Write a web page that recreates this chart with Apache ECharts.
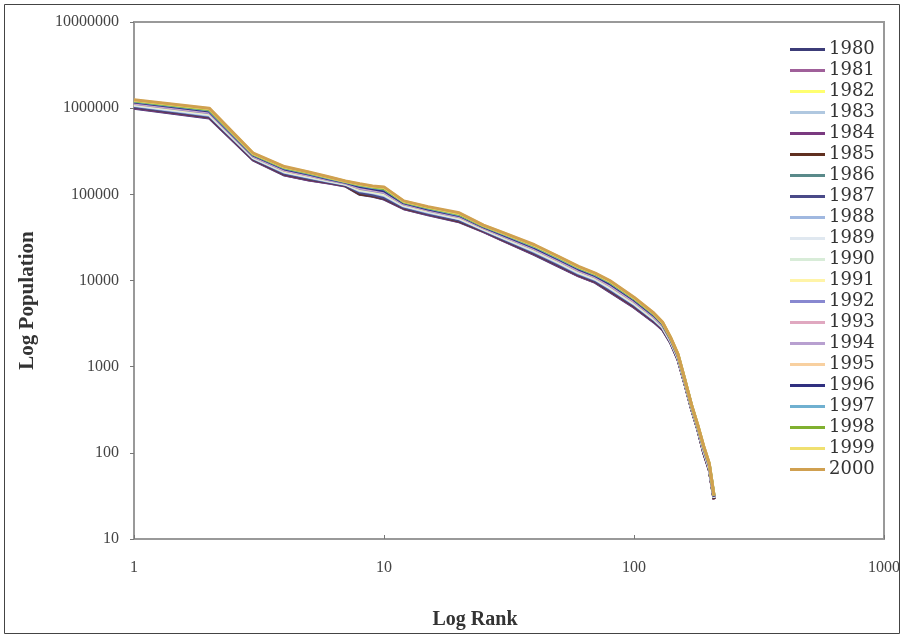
<!DOCTYPE html>
<html>
<head>
<meta charset="utf-8">
<script src="https://cdn.jsdelivr.net/npm/echarts@6/dist/echarts.min.js"></script>
<style>html,body{margin:0;padding:0;background:#fff}#c{width:904px;height:638px}</style>
</head>
<body>
<div id="c"></div>
<script>
const ranks = [1,2,3,4,5,6,7,8,9,10,12,15,20,25,30,40,50,60,70,80,100,120,130,140,150,160,170,180,190,200,209];
const years = ['1980','1981','1982','1983','1984','1985','1986','1987','1988','1989','1990','1991','1992','1993','1994','1995','1996','1997','1998','1999','2000'];
const colors = ['#3c3c78','#a0609a','#ffff70','#b0c8e0','#7a3a80','#603020','#5a8a8a','#4a4a88','#a0b8e0','#e0e8f0','#d8ecd8','#fff4a8','#8888d0','#e0a8c0','#b8a0d0','#f8d0a0','#303080','#70b0d0','#80b030','#f0e070','#d0a050'];
const xTicks = ['1','10','100','1000'];
const yTicks = ['10','100','1000','10000','100000','1000000','10000000'];

const y1980 = [1000000,770000,250000,167000,147000,135000,125000,100000,95000,88000,68000,58000,48000,37000,29000,20000,14600,11300,9500,7400,4900,3300,2700,1900,1200,620,320,185,100,63,29];
const y1981 = [1020000,790000,255000,171000,150000,137000,127000,103000,97000,90000,69000,59000,49000,37500,29500,20500,15000,11500,9700,7600,5000,3380,2750,1930,1215,625,322,187,101,64,29];
const y1982 = [1040000,800000,258000,173000,152000,139000,128000,104000,98000,91000,70000,60000,49500,38000,30000,20800,15200,11700,9800,7700,5100,3420,2780,1950,1225,630,325,188,102,64,30];
const y1983 = [1050000,810000,260000,176000,154000,140000,129000,106000,100000,93000,71000,60500,50500,38500,30300,21100,15400,11900,10000,7900,5200,3470,2820,1960,1240,635,328,190,104,65,30];
const y1984 = [1010000,780000,252000,169000,148000,136000,126000,102000,96000,89000,68500,58500,48500,37200,29200,20300,14800,11400,9600,7500,4950,3340,2720,1910,1210,622,321,186,100,63,29];
const y1985 = [1030000,795000,256000,172000,151000,138000,127000,101000,96000,90000,69500,59500,49000,37800,29700,20600,15100,11600,9750,7650,5050,3400,2760,1940,1220,628,324,187,101,64,29];
const y1986 = [1060000,820000,262000,178000,156000,141000,130000,108000,102000,95000,72000,61000,51000,38700,30600,21300,15600,12000,10100,8000,5250,3500,2840,1970,1250,640,330,191,105,66,30];
const y1987 = [1040000,805000,259000,174000,153000,139000,128000,105000,99000,92000,70500,60000,50000,38200,30100,20900,15300,11800,9900,7800,5150,3450,2800,1950,1230,632,326,189,103,65,30];
const y1988 = [1070000,830000,264000,180000,158000,142000,131000,110000,104000,97000,73000,62000,52000,39000,31000,21600,15900,12200,10250,8150,5330,3550,2870,1985,1260,645,332,193,106,67,30];
const y1989 = [1090000,845000,267000,183000,160000,144000,132000,112000,106000,99000,74000,63000,52500,39500,31500,22000,16200,12400,10450,8300,5420,3600,2900,2000,1270,650,335,194,107,67,30];
const y1990 = [1100000,860000,270000,185000,162000,145000,133000,113000,107000,101000,75000,64000,53500,40000,31900,22400,16400,12600,10600,8450,5500,3660,2940,2020,1285,655,337,196,109,68,31];
const y1991 = [1120000,875000,273000,187000,164000,147000,134000,115000,109000,103000,76000,65000,54000,40300,32300,22800,16700,12800,10800,8600,5600,3720,2980,2040,1300,660,340,197,110,69,31];
const y1992 = [1130000,885000,276000,190000,166000,148000,135000,117000,111000,105000,77000,65500,55000,40800,32700,23100,17000,13000,10950,8750,5700,3780,3020,2060,1310,665,343,199,111,70,31];
const y1993 = [1150000,900000,279000,192000,168000,150000,136000,119000,113000,107000,78000,66000,55500,41200,33100,23500,17200,13200,11100,8900,5800,3840,3060,2080,1320,670,345,200,112,71,31];
const y1994 = [1160000,915000,282000,195000,170000,151000,137000,121000,115000,108000,79000,67000,56000,41600,33500,23800,17500,13400,11250,9050,5900,3900,3100,2100,1335,675,348,202,114,72,31];
const y1995 = [1190000,940000,288000,200000,174000,154000,139000,125000,118000,113000,80500,68500,57500,42300,34400,24500,18000,13800,11550,9400,6050,4000,3160,2130,1360,683,352,205,116,73,31];
const y1996 = [1175000,925000,285000,197000,172000,152000,138000,123000,116000,110000,79500,67500,56800,42000,33900,24100,17700,13600,11400,9200,5980,3950,3130,2115,1345,678,350,203,115,72,31];
const y1997 = [1200000,950000,290000,202000,176000,155000,140000,127000,120000,115000,81500,69500,58000,42700,34800,24800,18200,14000,11700,9550,6150,4050,3190,2150,1370,688,354,206,117,74,32];
const y1998 = [1215000,965000,293000,204000,178000,157000,141000,129000,122000,117000,82000,70200,59000,43100,35200,25200,18500,14200,11900,9700,6230,4100,3230,2165,1380,692,356,207,118,75,32];
const y1999 = [1235000,985000,297000,207000,180000,158000,142000,131000,123000,120000,83000,71000,60000,43600,35600,25600,18800,14400,12050,9850,6320,4150,3270,2185,1390,696,358,209,119,75,32];
const y2000 = [1250000,1000000,300000,210000,182000,160000,143000,133000,125000,122000,84000,72000,61000,44000,36000,26000,19000,14600,12200,10000,6400,4200,3300,2200,1400,700,360,210,120,76,32];

const values = [y1980,y1981,y1982,y1983,y1984,y1985,y1986,y1987,y1988,y1989,y1990,y1991,y1992,y1993,y1994,y1995,y1996,y1997,y1998,y1999,y2000];

const serif = '"Liberation Serif","DejaVu Serif",serif';
const series = years.map((y, i) => ({
  name: y,
  type: 'line',
  symbol: 'none',
  data: ranks.map((r, j) => [r, values[i][j]]),
  lineStyle: { color: colors[i], width: 3 },
  itemStyle: { color: colors[i] }
}));

const chart = echarts.init(document.getElementById('c'));
chart.setOption({
  animation: false,
  backgroundColor: '#fff',
  graphic: [{
    type: 'rect', shape: { x: 4.5, y: 4.5, width: 895, height: 629 },
    style: { fill: 'none', stroke: '#444', lineWidth: 1 }, silent: true
  }],
  grid: { left: 134, right: 20, top: 22, bottom: 99, show: true, borderColor: '#999', borderWidth: 2 },
  legend: {
    orient: 'vertical', left: 790, top: 40, padding: 0,
    icon: 'rect', itemWidth: 35, itemHeight: 3, itemGap: 2,
    data: years,
    textStyle: { fontFamily: '"DejaVu Serif",serif', fontSize: 18, lineHeight: 19, color: '#333', padding: [0, 0, 0, -1] }
  },
  xAxis: {
    type: 'log', logBase: 10, min: 1, max: 1000,
    name: 'Log Rank', nameLocation: 'middle', nameGap: 71,
    nameTextStyle: { fontFamily: serif, fontSize: 20, fontWeight: 'bold', color: '#333', padding: [0, 68, 0, 0] },
    axisLine: { lineStyle: { color: '#999', width: 2 } },
    axisTick: { inside: true, length: 4, lineStyle: { color: '#777' } },
    splitLine: { show: false },
    axisLabel: {
      margin: 21, fontFamily: serif, fontSize: 16, color: '#444',
      formatter: v => xTicks.find(t => Number(t) === Math.round(v)) || ''
    }
  },
  yAxis: {
    type: 'log', logBase: 10, min: 10, max: 10000000,
    name: 'Log Population', nameLocation: 'middle', nameGap: 96,
    nameTextStyle: { fontFamily: serif, fontSize: 21, fontWeight: 'bold', color: '#333', padding: [0, 40, 0, 0] },
    axisLine: { lineStyle: { color: '#999', width: 2 } },
    axisTick: { show: true, inside: false, length: 4, lineStyle: { color: '#777' } },
    splitLine: { show: false },
    axisLabel: {
      margin: 15, fontFamily: serif, fontSize: 16, color: '#444',
      formatter: v => yTicks.find(t => Number(t) === Math.round(v)) || ''
    }
  },
  series: series
});
</script>
</body>
</html>
